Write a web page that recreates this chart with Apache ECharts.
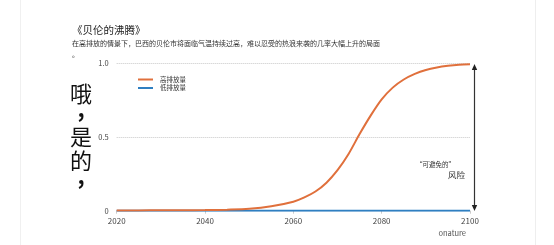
<!DOCTYPE html>
<html lang="zh">
<head>
    <meta charset="UTF-8">
    <title>贝伦的沸腾</title>
    <style>
        *{
            margin:0;
            padding:0;
            box-sizing:border-box;
        }
        html, body{
            height:100%;
            width:100%;
            background:#fff;
        }
        #myChart{
            height:245px;
            width:554px;
        }
    </style>
</head>
<body>
<div id="myChart"></div>
<script src="https://cdn.jsdelivr.net/npm/echarts@6/dist/echarts.min.js"></script>
<script>
    // 数据
    var years = [2020, 2025, 2030, 2035, 2040, 2045, 2050, 2055, 2060, 2062.5, 2065, 2067.5, 2070, 2072.5, 2075, 2077.5, 2080, 2082.5, 2085, 2087.5, 2090, 2092.5, 2095, 2097.5, 2100];
    var highEmission = [0.002, 0.002, 0.003, 0.003, 0.004, 0.007, 0.013, 0.03, 0.061, 0.09, 0.13, 0.19, 0.275, 0.385, 0.52, 0.645, 0.755, 0.835, 0.89, 0.928, 0.955, 0.972, 0.983, 0.99, 0.993];
    var lowEmission = [0, 0, 0, 0, 0, 0, 0, 0, 0, 0, 0, 0, 0, 0, 0, 0, 0, 0, 0, 0, 0, 0, 0, 0, 0];
    var seriesNames = ['高排放量', '低排放量'];
    var xTicks = [2020, 2040, 2060, 2080, 2100];
    var yTicks = {0: '0', 0.5: '0.5', 1: '1.0'};
    var sideChars = ['哦', ',', '是', '的', ','];

    var font = '"Noto Sans CJK SC", "Noto Sans", sans-serif';
    var orange = '#e0703c';
    var blue = '#2f7fc1';

    function pairs(vals) {
        return years.map(function(y, i) { return [y, vals[i]]; });
    }

    // 左侧竖排文字，每个字单独放
    var sideY = [94, 109, 137, 161, 176];
    var sideText = sideChars.map(function(ch, i) {
        return {
            type:'text', x:81, y:sideY[i],
            style:{ text:ch, font:(ch === ',' ? 'bold ' : '') + '22px ' + font, fill:'#111', align:'center', verticalAlign:'middle' }
        };
    });

    var myChart = echarts.init(document.getElementById('myChart'));
    var option = {
        backgroundColor:'#fff',
        textStyle:{ fontFamily:font },
        title:{
            text:'《贝伦的沸腾》',
            subtext:'在高排放的情景下，巴西的贝伦市将面临气温持续过高，难以忍受的热浪来袭的几率大幅上升的局面\n。',
            left:67,
            top:20,
            itemGap:2,
            textStyle:{ fontSize:10.5, fontWeight:'normal', color:'#222', fontFamily:font },
            subtextStyle:{ fontSize:7, color:'#333', lineHeight:11, fontFamily:font }
        },
        legend:{
            orient:'vertical',
            left:133,
            top:71,
            itemWidth:15,
            itemHeight:2,
            itemGap:1.5,
            icon:'rect',
            data:seriesNames,
            textStyle:{ fontSize:6.5, lineHeight:7, color:'#333', fontFamily:font, padding:[0, 0, 0, 2] }
        },
        grid:{
            left:116.7,
            right:84,
            top:63.3,
            bottom:34.3
        },
        xAxis:{
            type:'value',
            min:2020,
            max:2100,
            interval:20,
            axisLine:{ show:false },
            axisTick:{ show:true, length:3, lineStyle:{ color:'#ccc' } },
            splitLine:{ show:false },
            axisLabel:{
                fontSize:8, color:'#444', margin:6, fontFamily:font,
                formatter:function(v) { return xTicks.indexOf(v) >= 0 ? String(v) : ''; }
            }
        },
        yAxis:{
            type:'value',
            min:0,
            max:1,
            interval:0.5,
            axisLine:{ show:false },
            axisTick:{ show:false },
            axisLabel:{
                fontSize:7.5, color:'#444', margin:8, fontFamily:font,
                formatter:function(v) { return yTicks[v]; }
            },
            splitLine:{ lineStyle:{ color:'#c8c8c8', type:[1, 1], width:1 } }
        },
        series:[
            {
                name:seriesNames[1],
                type:'line',
                data:pairs(lowEmission),
                showSymbol:false,
                color:blue,
                lineStyle:{ color:blue, width:2 },
                z:2
            },
            {
                name:seriesNames[0],
                type:'line',
                data:pairs(highEmission),
                smooth:0.3,
                showSymbol:false,
                color:orange,
                lineStyle:{ color:orange, width:2 },
                z:3
            }
        ],
        graphic:sideText.concat([
            // 页面边线
            { type:'line', shape:{ x1:20.5, y1:0, x2:20.5, y2:245 }, style:{ stroke:'#f0f0f0', lineWidth:1 } },
            { type:'line', shape:{ x1:535.5, y1:0, x2:535.5, y2:245 }, style:{ stroke:'#eeeeee', lineWidth:1 } },
            // 双向箭头
            { type:'line', shape:{ x1:474.5, y1:68, x2:474.5, y2:207 }, style:{ stroke:'#333', lineWidth:1.2 } },
            { type:'polygon', shape:{ points:[[474.5, 64], [471.8, 70], [477.2, 70]] }, style:{ fill:'#222' } },
            { type:'polygon', shape:{ points:[[474.5, 211], [471.8, 205], [477.2, 205]] }, style:{ fill:'#222' } },
            // 注释
            {
                type:'text', x:455, y:165,
                style:{ text:'“可避免的”', font:'6.5px ' + font, fill:'#333', align:'right', verticalAlign:'middle' }
            },
            {
                type:'text', x:465, y:174.5,
                style:{ text:'风险', font:'8.5px ' + font, fill:'#333', align:'right', verticalAlign:'middle' }
            },
            {
                type:'text', x:466, y:233,
                style:{ text:'onature', font:'7.5px ' + font, fill:'#555', align:'right', verticalAlign:'middle' }
            }
        ])
    };
    myChart.setOption(option);
</script>
</body>
</html>
